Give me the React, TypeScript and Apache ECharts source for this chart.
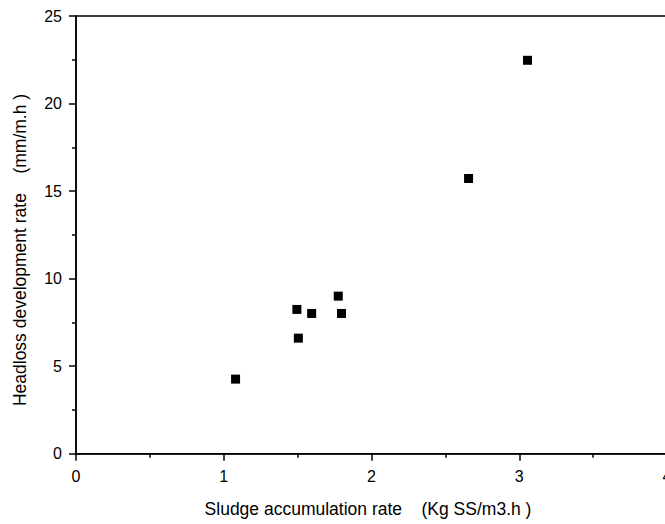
import React, { useEffect, useRef } from "react";
import * as echarts from "echarts";

// Sludge accumulation rate (Kg SS/m3.h) vs headloss development rate (mm/m.h)
const sludgeRate = [1.08, 1.495, 1.505, 1.595, 1.775, 1.797, 2.657, 3.056];
const headlossRate = [4.26, 8.24, 6.6, 8.01, 9.0, 8.01, 15.72, 22.47];

const xTitle = "Sludge accumulation rate\u00a0\u00a0\u00a0\u00a0(Kg SS/m3.h )";
const yTitle = "Headloss development rate\u00a0\u00a0\u00a0\u00a0(mm/m.h )";

const FONT = "'Liberation Sans', Arial, sans-serif";

export default function App() {
  const ref = useRef<HTMLDivElement>(null);

  useEffect(() => {
    if (!ref.current) return;
    const chart = echarts.init(ref.current, undefined, { renderer: "svg" });
    const points = sludgeRate.map((x, i) => [x, headlossRate[i]]);

    const axisCommon = {
      axisLine: { show: true, lineStyle: { color: "#000", width: 1.5 } },
      axisTick: { show: true, inside: false, length: 7, lineStyle: { color: "#000", width: 1.5 } },
      minorTick: { show: true, splitNumber: 2, length: 4, lineStyle: { color: "#000", width: 1.5 } },
      splitLine: { show: false },
      axisLabel: { color: "#000", fontSize: 16, fontFamily: FONT },
    };

    chart.setOption({
      animation: false,
      backgroundColor: "#fff",
      grid: {
        left: 76,
        top: 16,
        width: 591,
        height: 437.7,
        containLabel: false,
        outerBoundsMode: "none",
        show: true,
        borderColor: "#000",
        borderWidth: 1.5,
        backgroundColor: "transparent",
      },
      xAxis: {
        type: "value",
        min: 0,
        max: 4,
        interval: 1,
        ...axisCommon,
        axisLabel: { ...axisCommon.axisLabel, margin: 15, showMaxLabel: true },
      },
      yAxis: {
        type: "value",
        min: 0,
        max: 25,
        interval: 5,
        ...axisCommon,
        axisLabel: { ...axisCommon.axisLabel, margin: 14 },
      },
      graphic: [
        {
          type: "text",
          x: 368,
          y: 509,
          style: {
            text: xTitle,
            fontSize: 17.5,
            fontFamily: FONT,
            fill: "#000",
            align: "center",
            verticalAlign: "middle",
          },
        },
        {
          type: "text",
          x: 20,
          y: 250,
          rotation: Math.PI / 2,
          style: {
            text: yTitle,
            fontSize: 17.5,
            fontFamily: FONT,
            fill: "#000",
            align: "center",
            verticalAlign: "middle",
          },
        },
      ],
      series: [
        {
          type: "scatter",
          data: points,
          symbol: "rect",
          symbolSize: 9,
          itemStyle: { color: "#000", opacity: 1 },
        },
      ],
    });

    return () => chart.dispose();
  }, []);

  return (
    <div
      ref={ref}
      style={{ position: "fixed", left: 0, top: 0, width: 665, height: 524 }}
    />
  );
}
